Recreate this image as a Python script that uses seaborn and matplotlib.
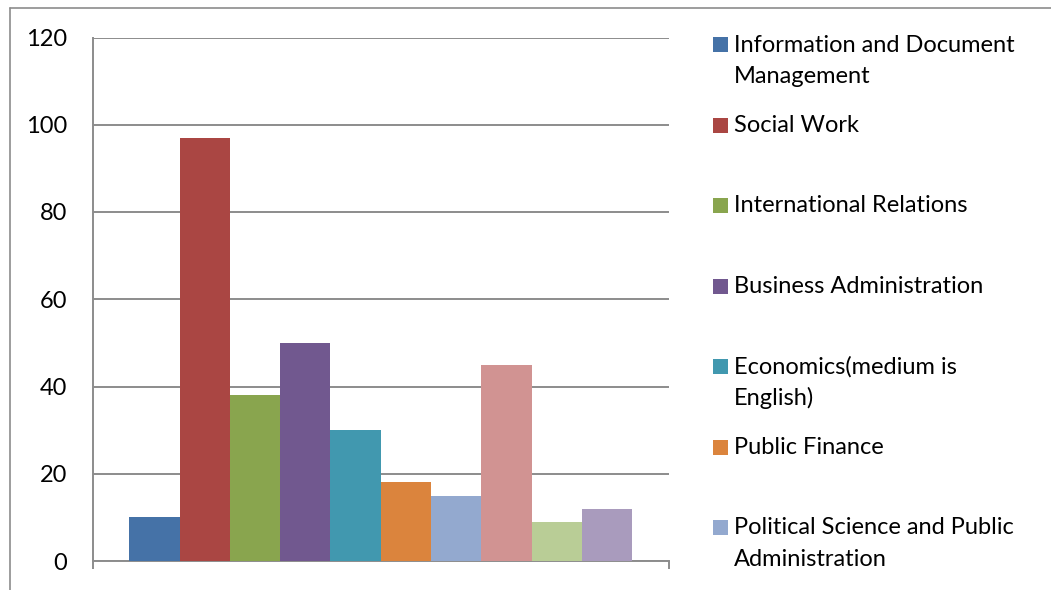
import matplotlib
matplotlib.use("Agg")
import matplotlib.pyplot as plt
from matplotlib.patches import Rectangle
from matplotlib.lines import Line2D
import pandas as pd
import seaborn as sns

# Enrolment per programme
programs = [
    "Information and Document\nManagement",
    "Social Work",
    "International Relations",
    "Business Administration",
    "Economics(medium is\nEnglish)",
    "Public Finance",
    "Political Science and Public\nAdministration",
    "Program 8",
    "Program 9",
    "Program 10",
]
values = [10, 97, 38, 50, 30, 18, 15, 45, 9, 12]
colors = ["#4572A7", "#AA4643", "#89A54E", "#71588F", "#4198AF",
          "#DB843D", "#93A9CF", "#D19392", "#B9CD96", "#A99BBD"]
yticks = [0, 20, 40, 60, 80, 100, 120]
legend_count = 7

sns.set_theme(style="white")
plt.rcParams["font.family"] = ["Lato", "DejaVu Sans"]

W, H = 1051, 590
fig = plt.figure(figsize=(W / 100, H / 100), dpi=100)
ax = fig.add_axes([92.5 / W, 1 - 561 / H, (669 - 92.5) / W, (561 - 37.5) / H])

df = pd.DataFrame({"group": [""] * len(values), "program": programs, "value": values})
sns.barplot(data=df, x="group", y="value", hue="program", hue_order=programs,
            palette=colors, saturation=1, width=0.872, dodge=True,
            legend=False, linewidth=0, ax=ax, zorder=3)

grid_c = "#8C8C8C"
ax.set_xlim(-0.5, 0.5)
ax.set_ylim(0, 120)
ax.set_yticks(yticks)
ax.set_yticklabels([str(t) for t in yticks], fontsize=17, color="black")
ax.set_xticks([-0.5, 0.5])
ax.set_xticklabels([])
ax.set_xlabel("")
ax.set_ylabel("")
ax.yaxis.grid(True, color=grid_c, linewidth=1.4)
ax.set_axisbelow(True)
ax.tick_params(axis="y", direction="out", length=5.5, width=1.4, color=grid_c, pad=13)
ax.tick_params(axis="x", direction="out", length=6, width=1.4, color=grid_c, bottom=True)
for side in ["top", "right"]:
    ax.spines[side].set_visible(False)
for side in ["left", "bottom"]:
    ax.spines[side].set_color(grid_c)
    ax.spines[side].set_linewidth(1.4)

# Chart-area frame (left and top edges)
fig.add_artist(Line2D([10 / W, 10 / W], [0, 1 - 8 / H], transform=fig.transFigure,
                      color="#8C8C8C", linewidth=1.2))
fig.add_artist(Line2D([10 / W, 1], [1 - 8 / H, 1 - 8 / H], transform=fig.transFigure,
                      color="#8C8C8C", linewidth=1.2))

# Legend, evenly spaced entries; wrapped labels drawn line by line
first_y, step, line_pitch = 44.5, 80.5, 31.5
for i in range(legend_count):
    yc = first_y + i * step
    fig.add_artist(Rectangle((713 / W, 1 - (yc + 7.5) / H), 15 / W, 15 / H,
                             transform=fig.transFigure, facecolor=colors[i],
                             edgecolor="none"))
    for k, line in enumerate(programs[i].split("\n")):
        fig.text(734 / W, 1 - (yc + 7 + k * line_pitch) / H, line, fontsize=17,
                 color="black", va="baseline", ha="left")

fig.savefig("out.png", dpi=100, facecolor="white")
